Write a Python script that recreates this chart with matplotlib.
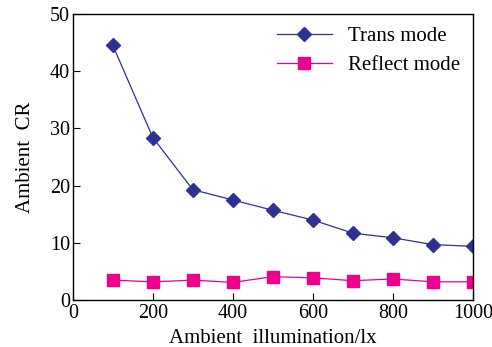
import matplotlib.pyplot as plt

illum = [100, 200, 300, 400, 500, 600, 700, 800, 900, 1000]
trans_cr = [44.5, 28.4, 19.3, 17.5, 15.7, 14.0, 11.7, 10.9, 9.7, 9.4]
reflect_cr = [3.5, 3.2, 3.5, 3.1, 4.1, 3.9, 3.4, 3.7, 3.2, 3.2]

plt.rcParams['font.family'] = ['Liberation Serif', 'DejaVu Serif']

fig = plt.figure(figsize=(4.92, 3.47), dpi=100)
ax = fig.add_axes([0.148, 0.135, 0.813, 0.825])

ax.plot(illum, trans_cr, color='#2e3192', marker='D', markersize=7, linewidth=0.9, label='Trans mode')
ax.plot(illum, reflect_cr, color='#ec008c', marker='s', markersize=8, linewidth=0.9, label='Reflect mode')

ax.set_xlim(0, 1000)
ax.set_ylim(0, 50)
ax.set_xticks([0, 200, 400, 600, 800, 1000])
ax.set_yticks([0, 10, 20, 30, 40, 50])
ax.tick_params(direction='in', labelsize=14.5, length=5, width=0.8, pad=2)
ax.tick_params(axis='x', pad=3)
ax.set_xlabel('Ambient  illumination/lx', fontsize=15, labelpad=4)
ax.set_ylabel('Ambient  CR', fontsize=15, labelpad=11)
for s in ax.spines.values():
    s.set_linewidth(1.0)

ax.legend(loc='upper right', frameon=False, fontsize=15, handlelength=2.6,
          borderaxespad=0.2, labelspacing=0.45)

fig.savefig('out.png', dpi=100)
